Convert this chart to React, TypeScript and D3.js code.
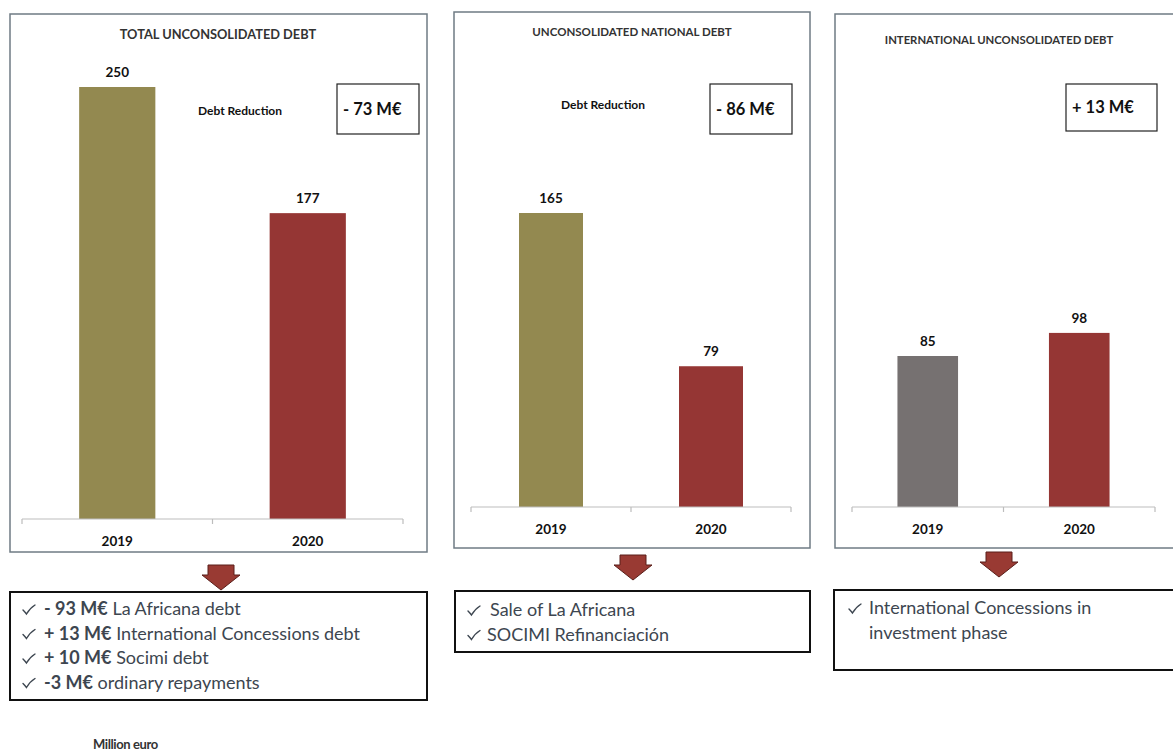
import React from "react";
import * as d3 from "d3";

const years = ["2019", "2020"];
const panelTitles = [
  "TOTAL UNCONSOLIDATED DEBT",
  "UNCONSOLIDATED NATIONAL DEBT",
  "INTERNATIONAL UNCONSOLIDATED DEBT",
];
const totalDebt = [250, 177];
const nationalDebt = [165, 79];
const internationalDebt = [85, 98];
const changeLabels = ["- 73 M€", "- 86 M€", "+ 13 M€"];
const changeCaptions = ["Debt Reduction", "Debt Reduction", ""];
// [bold part, regular part, has check mark]
const totalNotes: [string, string, boolean][] = [
  ["- 93 M€", " La Africana debt", true],
  ["+ 13 M€", " International Concessions debt", true],
  ["+ 10 M€", " Socimi debt", true],
  ["-3 M€", " ordinary repayments", true],
];
const nationalNotes: [string, string, boolean][] = [
  ["", "Sale of La Africana", true],
  ["", "SOCIMI Refinanciación", true],
];
const internationalNotes: [string, string, boolean][] = [
  ["", "International Concessions in", true],
  ["", "investment phase", false],
];
const unitLabel = "Million euro";

const OLIVE = "#938950";
const RED = "#953634";
const GRAY = "#767171";
const FONT = "Lato, 'Open Sans', sans-serif";

type Layout = {
  frame: [number, number, number, number];
  titleX: number; titleY: number; titleSize: number;
  axisY: number; axisX0: number; axisX1: number;
  yMax: number; yTop: number;
  catY: number;
  captionX: number; captionY: number;
  box: [number, number, number, number];
  arrowX: number; arrowY: number;
  notes: [number, number, number, number];
  checkX: number; noteX: number[]; noteY0: number;
  colors: string[];
};

const layouts: Layout[] = [
  {
    frame: [10, 14, 417, 538], titleX: 218, titleY: 39, titleSize: 12.8,
    axisY: 519, axisX0: 22, axisX1: 403, yMax: 250, yTop: 87, catY: 546,
    captionX: 240, captionY: 115, box: [337, 84, 82, 50],
    arrowX: 221, arrowY: 565, notes: [10, 592, 417, 108],
    checkX: 23, noteX: [44, 44, 44, 44], noteY0: 615,
    colors: [OLIVE, RED],
  },
  {
    frame: [454, 12, 356, 536], titleX: 632, titleY: 36, titleSize: 11.5,
    axisY: 507, axisX0: 471, axisX1: 791, yMax: 165, yTop: 213, catY: 534,
    captionX: 603, captionY: 109, box: [710, 84, 82, 50],
    arrowX: 633, arrowY: 555, notes: [455, 591, 355, 61],
    checkX: 468, noteX: [490, 487], noteY0: 616,
    colors: [OLIVE, RED],
  },
  {
    frame: [835, 14, 345, 534], titleX: 999, titleY: 44, titleSize: 11.3,
    axisY: 507, axisX0: 852, axisX1: 1155, yMax: 85, yTop: 356, catY: 534,
    captionX: 0, captionY: 0, box: [1066, 84, 91, 47],
    arrowX: 999, arrowY: 552, notes: [834, 590, 345, 80],
    checkX: 849, noteX: [869, 869], noteY0: 614,
    colors: [GRAY, RED],
  },
];

const panelValues = [totalDebt, nationalDebt, internationalDebt];
const panelNotes = [totalNotes, nationalNotes, internationalNotes];

function Panel({ i }: { i: number }) {
  const L = layouts[i];
  const values = panelValues[i];
  const x = d3.scaleBand<string>().domain(years).range([L.axisX0, L.axisX1])
    .paddingInner(0.6).paddingOuter(0.3);
  const y = d3.scaleLinear().domain([0, L.yMax]).range([L.axisY, L.yTop]);
  const step = x.step();
  const tickXs = [L.axisX0, L.axisX0 + step, L.axisX1];
  const [fx, fy, fw, fh] = L.frame;
  const [bx, by, bw, bh] = L.box;
  const [nx, ny, nw, nh] = L.notes;
  const ax = L.arrowX, ay = L.arrowY;
  const arrowPath = `M${ax - 13},${ay} H${ax + 13} V${ay + 10} H${ax + 19} L${ax},${ay + 25} L${ax - 19},${ay + 10} H${ax - 13} Z`;
  return (
    <g>
      <rect x={fx} y={fy} width={fw} height={fh} fill="#fff" stroke="#6f7b84" strokeWidth={1.5} />
      <text x={L.titleX} y={L.titleY} textAnchor="middle" fontSize={L.titleSize} fontWeight={700} fill="#333" fontFamily={FONT}>
        {panelTitles[i]}
      </text>
      {values.map((v, k) => (
        <g key={k}>
          <rect x={x(years[k])} y={y(v)} width={x.bandwidth()} height={L.axisY - y(v)} fill={L.colors[k]} />
          <text x={(x(years[k]) as number) + x.bandwidth() / 2} y={y(v) - 10} textAnchor="middle" fontSize={13.5} fontWeight={700} fill="#111" fontFamily={FONT}>
            {v}
          </text>
          <text x={(x(years[k]) as number) + x.bandwidth() / 2} y={L.catY} textAnchor="middle" fontSize={13.5} fontWeight={700} fill="#111" fontFamily={FONT}>
            {years[k]}
          </text>
        </g>
      ))}
      <line x1={L.axisX0} x2={L.axisX1} y1={L.axisY} y2={L.axisY} stroke="#bdbdbd" strokeWidth={1.2} />
      {tickXs.map((t, k) => (
        <line key={k} x1={t} x2={t} y1={L.axisY} y2={L.axisY + 5} stroke="#bdbdbd" strokeWidth={1.2} />
      ))}
      {changeCaptions[i] && (
        <text x={L.captionX} y={L.captionY} textAnchor="middle" fontSize={12} fontWeight={700} fill="#111" fontFamily={FONT}>
          {changeCaptions[i]}
        </text>
      )}
      <rect x={bx} y={by} width={bw} height={bh} fill="#fff" stroke="#222" strokeWidth={1.2} />
      <text x={bx + 6} y={by + bh / 2 + 5.5} fontSize={16.5} fontWeight={700} fill="#111" fontFamily={FONT}>
        {changeLabels[i]}
      </text>
      <path d={arrowPath} fill="#993a33" stroke="#5a1f1a" strokeWidth={1} />
      <rect x={nx} y={ny} width={nw} height={nh} fill="#fff" stroke="#111" strokeWidth={2} />
      {panelNotes[i].map(([b, r, chk], k) => {
        const base = L.noteY0 + k * 24.5;
        const cx = L.checkX;
        const cy = base - 1;
        return (
          <g key={k}>
            {chk && (
              <path
                d={`M${cx},${cy - 4} Q${cx + 2},${cy - 2} ${cx + 3.5},${cy} Q${cx + 7},${cy - 6} ${cx + 12},${cy - 9}`}
                fill="none" stroke="#3d4650" strokeWidth={1.4} strokeLinecap="round"
              />
            )}
            <text x={L.noteX[k]} y={base} fontSize={18} fill="#3d4650" fontFamily={FONT}>
              {b && <tspan fontWeight={700}>{b}</tspan>}
              <tspan>{r}</tspan>
            </text>
          </g>
        );
      })}
    </g>
  );
}

export default function App() {
  return (
    <svg width={1173} height={752} style={{ position: "absolute", left: 0, top: 0, background: "#fff" }}>
      <rect x={0} y={0} width={1173} height={752} fill="#fff" />
      {layouts.map((_, i) => <Panel key={i} i={i} />)}
      <text x={93} y={749} fontSize={13} fontWeight={700} fill="#333" fontFamily={FONT} letterSpacing={-0.4}>
        {unitLabel}
      </text>
    </svg>
  );
}
